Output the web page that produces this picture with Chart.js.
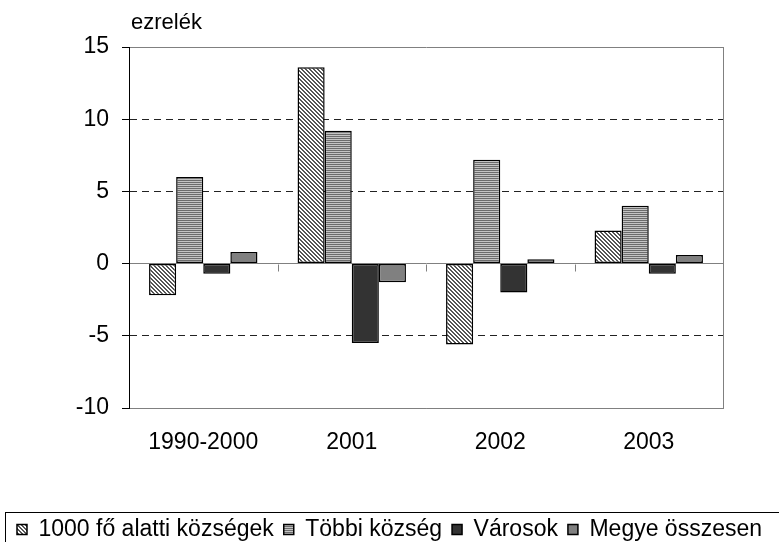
<!DOCTYPE html>
<html>
<head>
<meta charset="utf-8">
<script src="https://cdn.jsdelivr.net/npm/chart.js@4.4.1/dist/chart.umd.min.js"></script>
<style>
  html, body { margin: 0; padding: 0; background: #fff; }
  #wrap { width: 779px; height: 542px; position: relative; }
</style>
</head>
<body>
<div id="wrap"><canvas id="chart"></canvas></div>
<script>
// values (per mille)
const categories = ['1990-2000', '2001', '2002', '2003'];
const seriesNames = ['1000 fő alatti községek', 'Többi község', 'Városok', 'Megye összesen'];
const smallVillages = [-2.2, 13.6, -5.6, 2.3];
const otherVillages = [6.0, 9.2, 7.2, 4.0];
const towns = [-0.7, -5.5, -2.0, -0.7];
const countyTotal = [0.8, -1.3, 0.3, 0.6];
const yTicks = [-10, -5, 0, 5, 10, 15];
const unitLabel = 'ezrelék';

const FONT = '"Liberation Sans", Arial, sans-serif';
const FONT_SIZE = 23;
const LEGEND_PAD = 10;
const dashedAt = [-5, 5, 10];

function makePattern(w, h, draw) {
  const c = document.createElement('canvas');
  c.width = w; c.height = h;
  const g = c.getContext('2d');
  g.fillStyle = '#fff';
  g.fillRect(0, 0, w, h);
  draw(g);
  return g.createPattern(c, 'repeat');
}

// fine diagonal hatch
const diagPattern = makePattern(4, 4, g => {
  g.fillStyle = '#555555';
  for (let yy = 0; yy < 4; yy++) {
    for (let xx = 0; xx < 4; xx++) {
      if (((xx - yy + 4) % 4) < 2) g.fillRect(xx, yy, 1, 1);
    }
  }
});
// thin horizontal stripes
const stripePattern = makePattern(1, 2, g => {
  g.fillStyle = '#6c6c6c';
  g.fillRect(0, 0, 1, 1);
  g.fillStyle = '#c4c4c4';
  g.fillRect(0, 1, 1, 1);
});

const fills = [diagPattern, stripePattern, '#333333', '#808080'];
const values = [smallVillages, otherVillages, towns, countyTotal];

const decor = {
  id: 'decor',
  afterDatasetsDraw(chart) {
    const { ctx, scales: { x, y } } = chart;
    const zy = Math.round(y.getPixelForValue(0)) + 0.5;
    ctx.save();
    // little tick marks on the zero line between the groups
    ctx.strokeStyle = '#808080';
    ctx.lineWidth = 1;
    ctx.beginPath();
    for (let i = 1; i <= categories.length; i++) {
      const px = Math.round(x.getPixelForValue(i - 0.5)) + 0.5;
      ctx.moveTo(px, zy);
      ctx.lineTo(px, zy + 7);
    }
    ctx.stroke();
    // unit label above the y axis
    ctx.fillStyle = '#000';
    ctx.font = '22px ' + FONT;
    ctx.textAlign = 'left';
    ctx.textBaseline = 'alphabetic';
    ctx.fillText(unitLabel, y.right + 2, 29);
    ctx.restore();
  },
  afterDraw(chart) {
    // frame round the legend, runs off the right and bottom edge
    const lg = chart.legend;
    const { ctx } = chart;
    const textMid = lg.top + LEGEND_PAD + FONT_SIZE / 2;
    ctx.save();
    ctx.strokeStyle = '#000';
    ctx.lineWidth = 1;
    ctx.strokeRect(5.5, Math.round(textMid - 18) + 0.5, 900, 200);
    ctx.restore();
  }
};

// legend box height as Chart.js lays it out: item + padding + 10
const legendHeight = FONT_SIZE + LEGEND_PAD + 10;

new Chart(document.getElementById('chart'), {
  type: 'bar',
  data: {
    labels: categories,
    datasets: seriesNames.map((name, i) => ({
      label: name,
      data: values[i],
      backgroundColor: fills[i],
      borderColor: '#000',
      borderWidth: 1.5,
      borderSkipped: false,
      categoryPercentage: 0.73,
      barPercentage: 1.0
    }))
  },
  options: {
    responsive: true,
    maintainAspectRatio: false,
    animation: false,
    layout: { padding: { top: 47, right: 0, left: 0, bottom: -9 } },
    plugins: {
      tooltip: { enabled: false },
      legend: {
        position: 'bottom',
        labels: {
          boxWidth: 10,
          boxHeight: 10,
          padding: LEGEND_PAD,
          color: '#000',
          font: { size: FONT_SIZE, family: FONT }
        }
      }
    },
    scales: {
      x: {
        afterFit: s => { s.height = 542 + 9 - legendHeight - 408; },
        grid: {
          offset: true,
          drawTicks: false,
          color: ctx => ctx.tick ? 'rgba(0,0,0,0)' : '#808080',
          lineWidth: 1
        },
        border: { display: true, color: '#808080', width: 1 },
        ticks: {
          color: '#000',
          padding: 21,
          font: { size: FONT_SIZE, family: FONT }
        }
      },
      y: {
        min: -10,
        max: 15,
        afterFit: s => { s.width = 129; },
        afterBuildTicks: s => { s.ticks = yTicks.map(v => ({ value: v })); },
        grid: {
          color: ctx => (ctx.tick && dashedAt.includes(ctx.tick.value)) ? '#222' : '#808080',
          lineWidth: 1,
          tickLength: 7,
          tickColor: '#000'
        },
        border: {
          display: true,
          color: '#000',
          width: 1,
          dash: ctx => (ctx.tick && dashedAt.includes(ctx.tick.value)) ? [7, 5] : []
        },
        ticks: {
          color: '#000',
          padding: 13,
          font: { size: FONT_SIZE, family: FONT }
        }
      },
      // empty right axis, only reserves the space right of the plot
      yRight: {
        position: 'right',
        display: true,
        afterFit: s => { s.width = 56; },
        grid: { display: false },
        border: { display: false },
        ticks: { display: false }
      }
    }
  },
  plugins: [decor]
});
</script>
</body>
</html>
